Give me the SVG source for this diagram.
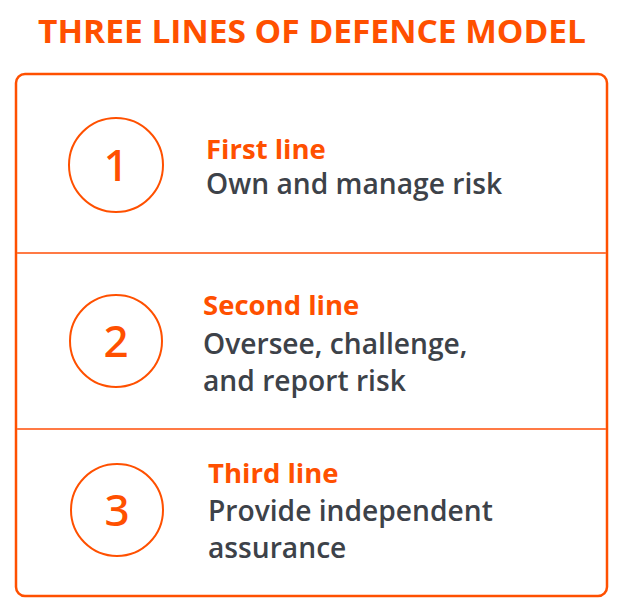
<svg xmlns="http://www.w3.org/2000/svg" width="624" height="598" viewBox="0 0 624 598">
<style>
.title{font-family:"Open Sans","Noto Sans",sans-serif;font-weight:700;font-size:33px;fill:#FF5000;}
.head{font-family:"Open Sans","Noto Sans",sans-serif;font-weight:700;font-size:27.5px;fill:#FF5000;}
.body{font-family:"Open Sans","Noto Sans",sans-serif;font-weight:600;font-size:28.2px;fill:#3D4249;}
.num{font-family:"Noto Sans","Open Sans",sans-serif;font-weight:500;font-size:44px;fill:#FF5000;text-anchor:middle;}
.ring{fill:none;stroke:#FF5000;stroke-width:2;}
.divider{stroke:#FF7A45;stroke-width:2;}
</style>
<rect width="624" height="598" fill="#FFFFFF"/>
<text class="title" x="312" y="43" text-anchor="middle" textLength="548" lengthAdjust="spacingAndGlyphs">THREE LINES OF DEFENCE MODEL</text>
<rect x="16" y="74" width="591" height="522" rx="9" ry="9" fill="none" stroke="#FF5000" stroke-width="2.5"/>
<g id="connectors">
<line class="divider" x1="17" y1="253" x2="606" y2="253"/>
<line class="divider" x1="17" y1="429" x2="606" y2="429"/>
</g>
<g id="line1">
<circle class="ring" cx="116" cy="165" r="47"/>
<text class="num" x="116" y="181">1</text>
<text class="head" x="206" y="159">First line</text>
<text class="body" x="206" y="194">Own and manage risk</text>
</g>
<g id="line2">
<circle class="ring" cx="116" cy="341" r="46"/>
<text class="num" x="116" y="357">2</text>
<text class="head" x="203" y="315">Second line</text>
<text class="body" x="203" y="354">Oversee, challenge,</text>
<text class="body" x="203" y="391">and report risk</text>
</g>
<g id="line3">
<circle class="ring" cx="117" cy="510" r="46"/>
<text class="num" x="117" y="526">3</text>
<text class="head" x="208" y="483">Third line</text>
<text class="body" x="208" y="521">Provide independent</text>
<text class="body" x="208" y="558">assurance</text>
</g>
</svg>
